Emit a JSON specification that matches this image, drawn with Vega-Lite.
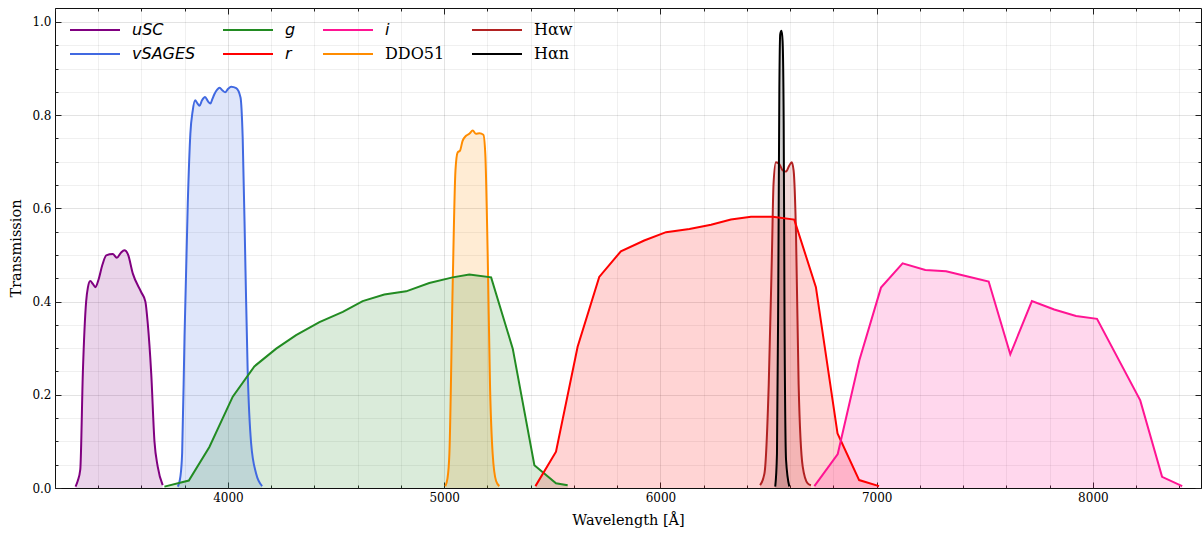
{
  "$schema": "https://vega.github.io/schema/vega-lite/v6.json",
  "width": 1146,
  "height": 480,
  "autosize": {"type": "none"},
  "padding": {"left": 55, "top": 8, "right": 3, "bottom": 45},
  "background": "white",
  "config": {
    "font": "DejaVu Serif",
    "view": {"stroke": "#111", "strokeWidth": 1},
    "axis": {"labelFont": "DejaVu Serif", "titleFont": "DejaVu Serif", "labelColor": "#000", "titleColor": "#000", "tickColor": "#222", "labelFontSize": 12, "titleFontSize": 14.5, "titleFontWeight": "normal", "domain": false},
    "legend": {"title": null, "orient": "top-left", "offset": 14, "padding": 0, "columns": 4, "columnPadding": 26, "rowPadding": 8, "symbolType": "stroke", "symbolSize": 2500, "symbolStrokeWidth": 2, "symbolOpacity": 1, "symbolFillColor": "transparent", "clipHeight": 16, "labelOffset": 11, "labelFontSize": 16, "labelColor": "#000"}
  },
  "data": {"values": [
    {"f":"uSC","w":3295,"t":0.003},{"f":"uSC","w":3305,"t":0.015},{"f":"uSC","w":3317,"t":0.04},{"f":"uSC","w":3329,"t":0.25},{"f":"uSC","w":3344,"t":0.40},{"f":"uSC","w":3352,"t":0.43},{"f":"uSC","w":3363,"t":0.444},{"f":"uSC","w":3375,"t":0.438},{"f":"uSC","w":3387,"t":0.431},{"f":"uSC","w":3400,"t":0.445},{"f":"uSC","w":3420,"t":0.48},{"f":"uSC","w":3437,"t":0.499},{"f":"uSC","w":3467,"t":0.502},{"f":"uSC","w":3486,"t":0.494},{"f":"uSC","w":3505,"t":0.505},{"f":"uSC","w":3521,"t":0.510},{"f":"uSC","w":3537,"t":0.502},{"f":"uSC","w":3560,"t":0.46},{"f":"uSC","w":3599,"t":0.42},{"f":"uSC","w":3618,"t":0.40},{"f":"uSC","w":3629,"t":0.353},{"f":"uSC","w":3645,"t":0.246},{"f":"uSC","w":3660,"t":0.10},{"f":"uSC","w":3675,"t":0.046},{"f":"uSC","w":3698,"t":0.006},
    {"f":"vSAGES","w":3768,"t":0.003},{"f":"vSAGES","w":3780,"t":0.025},{"f":"vSAGES","w":3788,"t":0.075},{"f":"vSAGES","w":3799,"t":0.324},{"f":"vSAGES","w":3814,"t":0.61},{"f":"vSAGES","w":3826,"t":0.76},{"f":"vSAGES","w":3837,"t":0.81},{"f":"vSAGES","w":3848,"t":0.832},{"f":"vSAGES","w":3858,"t":0.826},{"f":"vSAGES","w":3868,"t":0.82},{"f":"vSAGES","w":3880,"t":0.832},{"f":"vSAGES","w":3894,"t":0.839},{"f":"vSAGES","w":3907,"t":0.83},{"f":"vSAGES","w":3919,"t":0.825},{"f":"vSAGES","w":3928,"t":0.835},{"f":"vSAGES","w":3937,"t":0.845},{"f":"vSAGES","w":3950,"t":0.855},{"f":"vSAGES","w":3961,"t":0.859},{"f":"vSAGES","w":3975,"t":0.853},{"f":"vSAGES","w":3987,"t":0.849},{"f":"vSAGES","w":4000,"t":0.856},{"f":"vSAGES","w":4015,"t":0.861},{"f":"vSAGES","w":4038,"t":0.858},{"f":"vSAGES","w":4058,"t":0.838},{"f":"vSAGES","w":4068,"t":0.752},{"f":"vSAGES","w":4081,"t":0.467},{"f":"vSAGES","w":4091,"t":0.253},{"f":"vSAGES","w":4107,"t":0.096},{"f":"vSAGES","w":4130,"t":0.031},{"f":"vSAGES","w":4158,"t":0.004},
    {"f":"g","w":3706,"t":0.003},{"f":"g","w":3819,"t":0.016},{"f":"g","w":3914,"t":0.088},{"f":"g","w":4022,"t":0.196},{"f":"g","w":4122,"t":0.261},{"f":"g","w":4223,"t":0.299},{"f":"g","w":4315,"t":0.328},{"f":"g","w":4423,"t":0.356},{"f":"g","w":4531,"t":0.378},{"f":"g","w":4623,"t":0.401},{"f":"g","w":4723,"t":0.415},{"f":"g","w":4824,"t":0.422},{"f":"g","w":4931,"t":0.44},{"f":"g","w":5039,"t":0.452},{"f":"g","w":5116,"t":0.458},{"f":"g","w":5217,"t":0.452},{"f":"g","w":5317,"t":0.299},{"f":"g","w":5417,"t":0.049},{"f":"g","w":5517,"t":0.01},{"f":"g","w":5571,"t":0.006},
    {"f":"r","w":5422,"t":0.004},{"f":"r","w":5517,"t":0.078},{"f":"r","w":5617,"t":0.303},{"f":"r","w":5717,"t":0.453},{"f":"r","w":5817,"t":0.508},{"f":"r","w":5925,"t":0.531},{"f":"r","w":6026,"t":0.549},{"f":"r","w":6134,"t":0.556},{"f":"r","w":6234,"t":0.565},{"f":"r","w":6326,"t":0.576},{"f":"r","w":6419,"t":0.582},{"f":"r","w":6519,"t":0.582},{"f":"r","w":6619,"t":0.576},{"f":"r","w":6719,"t":0.431},{"f":"r","w":6819,"t":0.117},{"f":"r","w":6919,"t":0.017},{"f":"r","w":7011,"t":0.004},
    {"f":"i","w":6712,"t":0.004},{"f":"i","w":6820,"t":0.073},{"f":"i","w":6920,"t":0.274},{"f":"i","w":7020,"t":0.43},{"f":"i","w":7120,"t":0.482},{"f":"i","w":7225,"t":0.468},{"f":"i","w":7321,"t":0.465},{"f":"i","w":7421,"t":0.454},{"f":"i","w":7518,"t":0.443},{"f":"i","w":7618,"t":0.287},{"f":"i","w":7718,"t":0.401},{"f":"i","w":7821,"t":0.383},{"f":"i","w":7922,"t":0.369},{"f":"i","w":8019,"t":0.363},{"f":"i","w":8219,"t":0.188},{"f":"i","w":8320,"t":0.024},{"f":"i","w":8413,"t":0.004},
    {"f":"DDO51","w":5005,"t":0.004},{"f":"DDO51","w":5015,"t":0.02},{"f":"DDO51","w":5024,"t":0.074},{"f":"DDO51","w":5039,"t":0.43},{"f":"DDO51","w":5052,"t":0.681},{"f":"DDO51","w":5062,"t":0.72},{"f":"DDO51","w":5073,"t":0.724},{"f":"DDO51","w":5085,"t":0.745},{"f":"DDO51","w":5101,"t":0.756},{"f":"DDO51","w":5116,"t":0.76},{"f":"DDO51","w":5132,"t":0.767},{"f":"DDO51","w":5147,"t":0.76},{"f":"DDO51","w":5163,"t":0.761},{"f":"DDO51","w":5181,"t":0.758},{"f":"DDO51","w":5190,"t":0.717},{"f":"DDO51","w":5201,"t":0.503},{"f":"DDO51","w":5212,"t":0.217},{"f":"DDO51","w":5224,"t":0.074},{"f":"DDO51","w":5240,"t":0.015},{"f":"DDO51","w":5255,"t":0.004},
    {"f":"Hαw","w":6461,"t":0.006},{"f":"Hαw","w":6481,"t":0.031},{"f":"Hαw","w":6501,"t":0.224},{"f":"Hαw","w":6516,"t":0.51},{"f":"Hαw","w":6523,"t":0.652},{"f":"Hαw","w":6534,"t":0.699},{"f":"Hαw","w":6550,"t":0.695},{"f":"Hαw","w":6565,"t":0.682},{"f":"Hαw","w":6581,"t":0.679},{"f":"Hαw","w":6596,"t":0.692},{"f":"Hαw","w":6607,"t":0.699},{"f":"Hαw","w":6616,"t":0.681},{"f":"Hαw","w":6627,"t":0.545},{"f":"Hαw","w":6639,"t":0.224},{"f":"Hαw","w":6658,"t":0.046},{"f":"Hαw","w":6681,"t":0.01},{"f":"Hαw","w":6696,"t":0.006},
    {"f":"Hαn","w":6531,"t":0.003},{"f":"Hαn","w":6539,"t":0.074},{"f":"Hαn","w":6545,"t":0.43},{"f":"Hαn","w":6550,"t":0.859},{"f":"Hαn","w":6554,"t":0.974},{"f":"Hαn","w":6560,"t":0.981},{"f":"Hαn","w":6565,"t":0.959},{"f":"Hαn","w":6570,"t":0.788},{"f":"Hαn","w":6574,"t":0.36},{"f":"Hαn","w":6581,"t":0.06},{"f":"Hαn","w":6596,"t":0.003}
  ]},
  "resolve": {"axis": {"x": "independent", "y": "independent"}},
  "layer": [
    {
      "transform": [{"filter": {"field": "f", "oneOf": ["uSC", "vSAGES", "DDO51", "Hαw", "Hαn"]}}],
      "mark": {"type": "area", "interpolate": "monotone", "fillOpacity": 0.17},
      "encoding": {
        "x": {"field": "w", "type": "quantitative", "scale": {"domain": [3200, 8500], "nice": false, "zero": false},
              "axis": {"orient": "bottom", "values": [3200,3400,3600,3800,4000,4200,4400,4600,4800,5000,5200,5400,5600,5800,6000,6200,6400,6600,6800,7000,7200,7400,7600,7800,8000,8200,8400], "grid": true, "gridColor": "#000", "gridOpacity": 0.06, "labels": false, "tickSize": -3, "title": null, "zindex": 0}},
        "y": {"field": "t", "type": "quantitative", "stack": null, "scale": {"domain": [0, 1.03], "nice": false},
              "axis": {"orient": "left", "values": [0,0.05,0.1,0.15,0.2,0.25,0.3,0.35,0.4,0.45,0.5,0.55,0.6,0.65,0.7,0.75,0.8,0.85,0.9,0.95,1.0], "grid": true, "gridColor": "#000", "gridOpacity": 0.06, "labels": false, "tickSize": -3, "title": null, "zindex": 0}},
        "color": {"field": "f", "type": "nominal"}
      }
    },
    {
      "transform": [{"filter": {"field": "f", "oneOf": ["g", "r", "i"]}}],
      "mark": {"type": "area", "interpolate": "linear", "fillOpacity": 0.17},
      "encoding": {
        "x": {"field": "w", "type": "quantitative",
              "axis": {"orient": "top", "values": [3200,3400,3600,3800,4000,4200,4400,4600,4800,5000,5200,5400,5600,5800,6000,6200,6400,6600,6800,7000,7200,7400,7600,7800,8000,8200,8400], "grid": false, "labels": false, "tickSize": -3, "title": null, "zindex": 1}},
        "y": {"field": "t", "type": "quantitative", "stack": null,
              "axis": {"orient": "right", "values": [0,0.05,0.1,0.15,0.2,0.25,0.3,0.35,0.4,0.45,0.5,0.55,0.6,0.65,0.7,0.75,0.8,0.85,0.9,0.95,1.0], "grid": false, "labels": false, "tickSize": -3, "title": null, "zindex": 1}},
        "color": {"field": "f", "type": "nominal"}
      }
    },
    {
      "transform": [{"filter": {"field": "f", "oneOf": ["uSC", "vSAGES", "DDO51", "Hαw", "Hαn"]}}],
      "mark": {"type": "line", "interpolate": "monotone", "strokeWidth": 2},
      "encoding": {
        "x": {"field": "w", "type": "quantitative",
              "axis": {"orient": "bottom", "values": [4000,5000,6000,7000,8000], "format": "d", "grid": true, "gridColor": "#000", "gridOpacity": 0.05, "tickSize": -6, "labelPadding": 10, "title": "Wavelength [Å]", "titlePadding": 10, "zindex": 0}},
        "y": {"field": "t", "type": "quantitative",
              "axis": {"orient": "left", "values": [0,0.2,0.4,0.6,0.8,1.0], "format": ".1f", "grid": true, "gridColor": "#000", "gridOpacity": 0.05, "tickSize": -6, "labelPadding": 10, "title": "Transmission", "titlePadding": 8, "zindex": 0}},
        "color": {"field": "f", "type": "nominal",
                  "scale": {"domain": ["uSC", "vSAGES", "g", "r", "i", "DDO51", "Hαw", "Hαn"], "range": ["#800080", "#4169e1", "#228b22", "#ff0000", "#ff1493", "#ff8c00", "#b22222", "#000000"]},
                  "legend": {"encode": {"labels": {"update": {"font": {"signal": "indexof(['DDO51','Hαw','Hαn'], datum.value) >= 0 ? 'DejaVu Serif' : 'DejaVu Sans'"}, "fontStyle": {"signal": "indexof(['g','r','i','uSC','vSAGES'], datum.value) >= 0 ? 'italic' : 'normal'"}}}}}}
      }
    },
    {
      "transform": [{"filter": {"field": "f", "oneOf": ["g", "r", "i"]}}],
      "mark": {"type": "line", "interpolate": "linear", "strokeWidth": 2},
      "encoding": {
        "x": {"field": "w", "type": "quantitative",
              "axis": {"orient": "top", "values": [4000,5000,6000,7000,8000], "grid": false, "labels": false, "tickSize": -6, "title": null, "zindex": 1}},
        "y": {"field": "t", "type": "quantitative",
              "axis": {"orient": "right", "values": [0,0.2,0.4,0.6,0.8,1.0], "grid": false, "labels": false, "tickSize": -6, "title": null, "zindex": 1}},
        "color": {"field": "f", "type": "nominal"}
      }
    }
  ]
}
